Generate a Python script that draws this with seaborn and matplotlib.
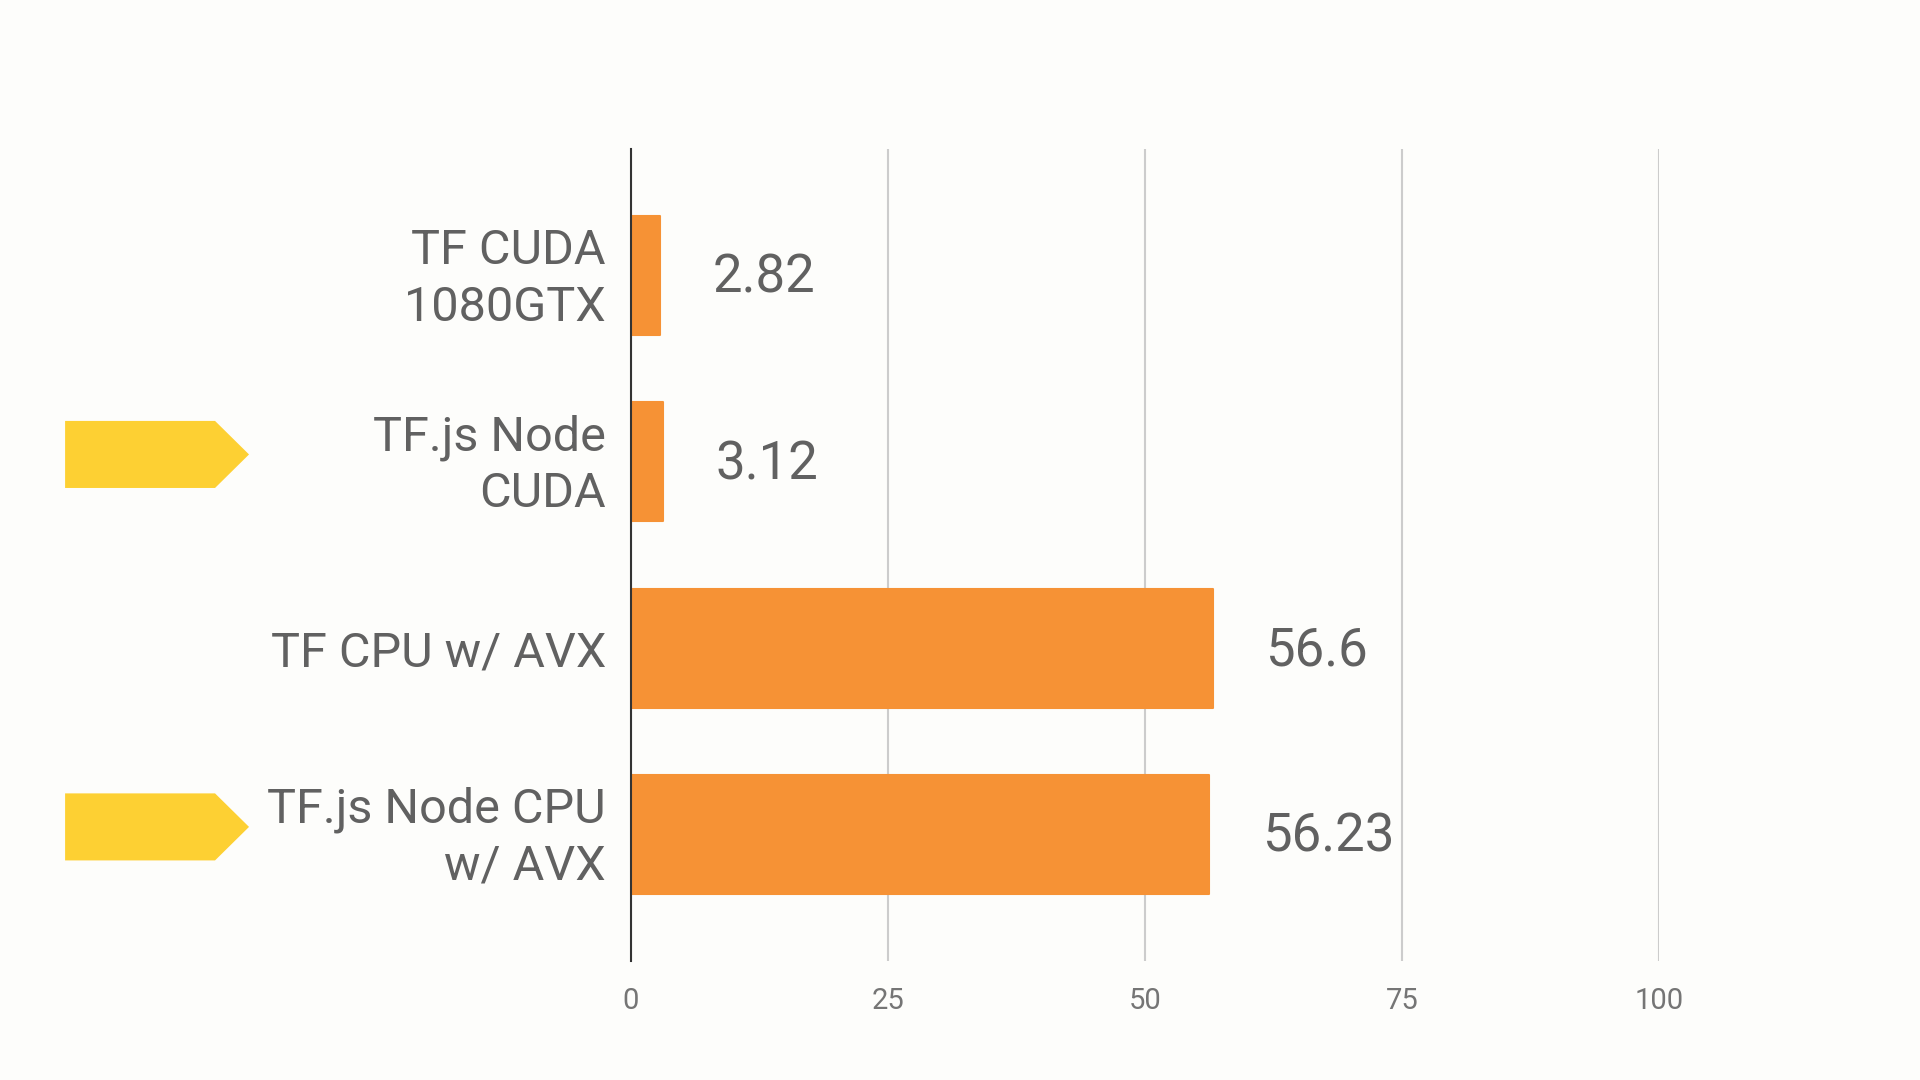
import matplotlib
matplotlib.use("Agg")
import matplotlib.pyplot as plt
import matplotlib.transforms as mtransforms
from matplotlib.patches import Polygon
import seaborn as sns
import pandas as pd

categories = ["TF CUDA\n1080GTX", "TF.js Node\nCUDA", "TF CPU w/ AVX", "TF.js Node CPU\nw/ AVX"]
values = [2.82, 3.12, 56.6, 56.23]
value_labels = ["2.82", "3.12", "56.6", "56.23"]
highlighted = [False, True, False, True]
x_ticks = [0, 25, 50, 75, 100]

sns.set_theme(style="white")
plt.rcParams['font.family'] = ['Roboto', 'DejaVu Sans']

BG = "#FDFDFB"
ORANGE = "#F69235"
TEXT = "#616161"
YELLOW = "#FDD033"

df = pd.DataFrame({"cat": categories, "val": values})

fig = plt.figure(figsize=(19.2, 10.8), dpi=100, facecolor=BG)
ax = fig.add_axes([0.3286, 0.1102, 0.864 - 0.3286, 0.862 - 0.1102])
ax.set_facecolor(BG)

sns.barplot(data=df, y="cat", x="val", orient="h", color=ORANGE, width=0.64,
            saturation=1, ax=ax, zorder=3)
for p in ax.patches:
    p.set_edgecolor(ORANGE)
    p.set_linewidth(1.5)
    p.set_joinstyle("round")

ax.set_xlim(0, 100)
ax.set_ylim(3.68, -0.68)
ax.set_xticks(x_ticks)
ax.set_xticklabels([str(t) for t in x_ticks], color="#757575", fontsize=21)
ax.tick_params(axis="x", length=0, pad=19)
ax.tick_params(axis="y", length=0, pad=18)
ax.grid(axis="x", color="#CCCCCC", linewidth=1.5, zorder=0)
ax.set_axisbelow(True)
for s in ["top", "right", "bottom"]:
    ax.spines[s].set_visible(False)
ax.spines["left"].set_color("#333333")
ax.spines["left"].set_linewidth(1.5)
ax.spines["left"].set_zorder(4)
ax.set_xlabel("")
ax.set_ylabel("")

shift = mtransforms.ScaledTranslation(0, 4.5 / 72, fig.dpi_scale_trans)
for tick in ax.yaxis.get_major_ticks():
    lbl = tick.label1
    lbl.set_fontsize(35)
    lbl.set_color(TEXT)
    lbl.set_linespacing(1.28)
    lbl.set_horizontalalignment("right")
    lbl.set_multialignment("right")
    if "\n" in lbl.get_text():
        lbl.set_transform(lbl.get_transform() + shift)

# value labels
for i, (v, t) in enumerate(zip(values, value_labels)):
    ax.annotate(t, xy=(v, i), xytext=(38, -2), textcoords="offset points",
                ha="left", va="center", fontsize=38, color=TEXT)

# yellow arrow markers
trans = mtransforms.blended_transform_factory(fig.transFigure, ax.transData)
for i, h in enumerate(highlighted):
    if h:
        yc = i - 0.04
        hh = 0.18
        poly = Polygon([(0.0339, yc - hh), (0.1120, yc - hh), (0.1297, yc),
                        (0.1120, yc + hh), (0.0339, yc + hh)],
                       closed=True, transform=trans, facecolor=YELLOW,
                       edgecolor="none", clip_on=False)
        fig.patches.append(poly)

fig.savefig("out.png", dpi=100, facecolor=BG)
